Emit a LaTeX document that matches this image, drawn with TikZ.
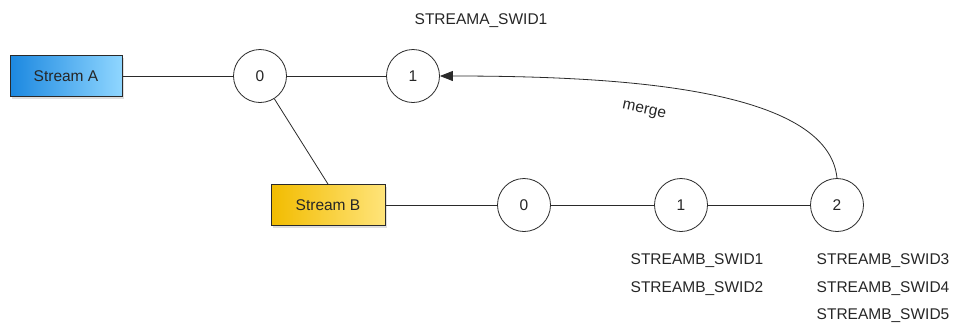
\documentclass[tikz,border=0pt]{standalone}
\usepackage{fontspec}
\setmainfont{Liberation Sans}
\usetikzlibrary{arrows.meta,shadows}
\definecolor{blueL}{HTML}{1C88E0}
\definecolor{blueR}{HTML}{8FD6FF}
\definecolor{goldL}{HTML}{F2BC00}
\definecolor{goldR}{HTML}{FFE47A}
\definecolor{edge}{HTML}{2A2A2A}
\begin{document}
\begin{tikzpicture}[x=1pt,y=-1pt,
  every node/.style={font=\fontsize{15.5}{18}\selectfont, text=black!85},
  streambox/.style={draw=edge, line width=0.8pt, minimum height=41pt, inner sep=0pt,
    drop shadow={shadow xshift=2pt, shadow yshift=-2pt, opacity=0.25}},
  state/.style={circle, draw=edge, line width=0.8pt, fill=white, minimum size=53pt, inner sep=0pt},
  link/.style={draw=edge, line width=0.8pt},
  merge/.style={draw=edge, line width=0.8pt, -{Triangle[length=13pt,width=10pt]}},
  tag/.style={inner sep=0pt}]
\useasboundingbox (0,0) rectangle (958,325);

% stream sources
\node[streambox, minimum width=112pt, left color=blueL, right color=blueR] (sa) at (66,76) {Stream A};
\node[streambox, minimum width=114pt, left color=goldL, right color=goldR] (sb) at (328,205) {Stream B};

% states of stream A
\node[state] (a0) at (260,76) {0};
\node[state] (a1) at (413,76) {1};

% states of stream B
\node[state] (b0) at (524,205) {0};
\node[state] (b1) at (681,205) {1};
\node[state] (b2) at (837,205) {2};

% connections
\draw[link] (sa) -- (a0);
\draw[link] (a0) -- (a1);
\draw[link] (a0) -- (sb.north);
\draw[link] (sb) -- (b0);
\draw[link] (b0) -- (b1);
\draw[link] (b1) -- (b2);

% merge back into stream A
\draw[merge] (b2.north) .. controls (828,88) and (620,76) .. (a1.east);
\node[tag, rotate=-12] (ml) at (644,111) {merge};

% switch identifiers
\node[tag] (ta) at (481,21) {STREAMA\_SWID1};
\node[tag] (t1) at (697,261) {STREAMB\_SWID1};
\node[tag] (t2) at (697,289) {STREAMB\_SWID2};
\node[tag] (t3) at (883,261) {STREAMB\_SWID3};
\node[tag] (t4) at (883,289) {STREAMB\_SWID4};
\node[tag] (t5) at (883,316) {STREAMB\_SWID5};
\end{tikzpicture}
\end{document}
